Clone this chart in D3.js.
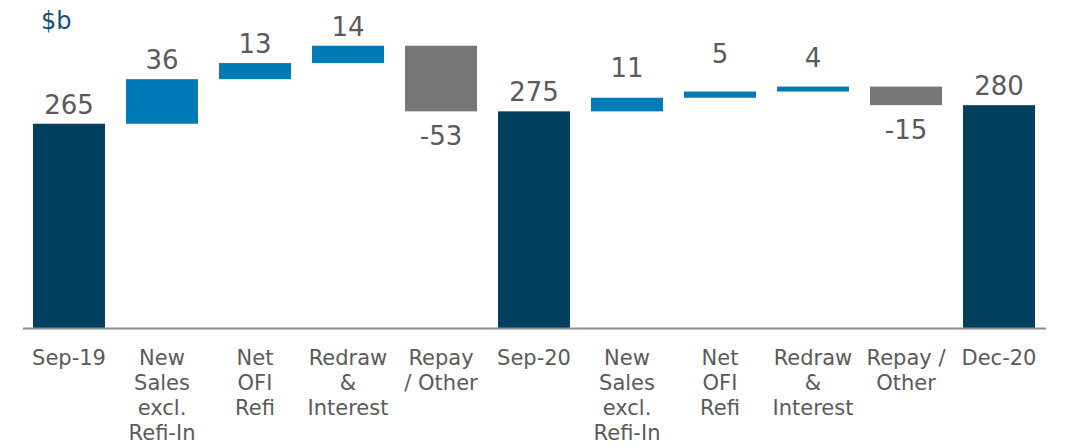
<!DOCTYPE html>
<html>
<head>
<meta charset="utf-8">
<script src="https://cdn.jsdelivr.net/npm/d3@7"></script>
<style>
  body { margin: 0; background: #fff; }
  svg text { font-family: "DejaVu Sans", Verdana, sans-serif; }
</style>
</head>
<body>
<svg id="chart" width="1076" height="445"></svg>
<script>
// chart data
var categories = ["Sep-19", "New Sales excl. Refi-In", "Net OFI Refi", "Redraw & Interest", "Repay / Other",
                  "Sep-20", "New Sales excl. Refi-In ", "Net OFI Refi ", "Redraw & Interest ", "Repay / Other ", "Dec-20"];
var tickLines = [["Sep-19"], ["New", "Sales", "excl.", "Refi-In"], ["Net", "OFI", "Refi"], ["Redraw", "&", "Interest"], ["Repay", "/ Other"],
                 ["Sep-20"], ["New", "Sales", "excl.", "Refi-In"], ["Net", "OFI", "Refi"], ["Redraw", "&", "Interest"], ["Repay /", "Other"], ["Dec-20"]];
var values = [265, 36, 13, 14, -53, 275, 11, 5, 4, -15, 280];
var kinds = ["total", "delta", "delta", "delta", "delta", "total", "delta", "delta", "delta", "delta", "total"];
var yMin = 100, yMax = 350;

// small hand nudges for labels over the thin bars (as in the original slide)
var labelLift = [0, 0, 0, 0, 0, 0, 11, 19, 10, 0, 0];

var colors = { total: "#00405f", up: "#007bb8", down: "#757678" };
var fontFam = "'DejaVu Sans', Verdana, sans-serif";

var svg = d3.select("#chart");

var x = d3.scaleBand().domain(categories).range([22.5, 1045.5]).paddingInner(0.226).paddingOuter(0.113);
var y = d3.scaleLinear().domain([yMin, yMax]).range([328, 328 - (yMax - yMin) * 1.238]);

// running totals for the waterfall
var run = yMin;
var bars = values.map(function(v, i) {
  var b = { cat: categories[i], value: v, kind: kinds[i], lift: labelLift[i] };
  if (kinds[i] === "total") {
    b.from = yMin; b.to = v; run = v;
  } else {
    b.from = run; b.to = run + v; run = run + v;
  }
  return b;
});

var fillOf = function(d) {
  if (d.kind === "total") return colors.total;
  return d.value >= 0 ? colors.up : colors.down;
};

svg.append("g").selectAll("rect")
  .data(bars)
  .enter()
  .append("rect")
  .attr("x", function(d) { return x(d.cat); })
  .attr("width", x.bandwidth())
  .attr("y", function(d) { return y(Math.max(d.from, d.to)); })
  .attr("height", function(d) { return Math.abs(y(d.from) - y(d.to)); })
  .attr("fill", fillOf);

// value labels, above for rises/totals, below for falls
svg.append("g").selectAll("text")
  .data(bars)
  .enter()
  .append("text")
  .attr("x", function(d) { return x(d.cat) + x.bandwidth() / 2; })
  .attr("y", function(d) {
    if (d.value < 0) return y(Math.min(d.from, d.to)) + 34;
    return y(Math.max(d.from, d.to)) - 10 - d.lift;
  })
  .attr("text-anchor", "middle")
  .attr("font-family", fontFam)
  .attr("font-size", 26)
  .attr("fill", "#5a5a5a")
  .text(function(d) { return d.value; });

// x axis
var xAxis = d3.axisBottom(x).tickSize(0).tickSizeOuter(0).tickFormat("");
var gx = svg.append("g").attr("transform", "translate(0,328)").call(xAxis);
gx.attr("font-family", null).attr("font-size", null);
gx.select(".domain").attr("stroke", "#8a8a8a").attr("stroke-width", 2);
gx.selectAll(".tick text").remove();
gx.selectAll(".tick").each(function(d, i) {
  var t = d3.select(this).append("text")
    .attr("text-anchor", "middle")
    .attr("font-family", fontFam)
    .attr("font-size", 21)
    .attr("fill", "#5a5a5a");
  tickLines[i].forEach(function(line, j) {
    t.append("tspan").attr("x", 0).attr("y", 36.5 + j * 25.3).text(line);
  });
});

// unit label
svg.append("text")
  .attr("x", 41)
  .attr("y", 29)
  .attr("font-family", fontFam)
  .attr("font-size", 24)
  .attr("fill", "#15507a")
  .text("$b");
</script>
</body>
</html>
